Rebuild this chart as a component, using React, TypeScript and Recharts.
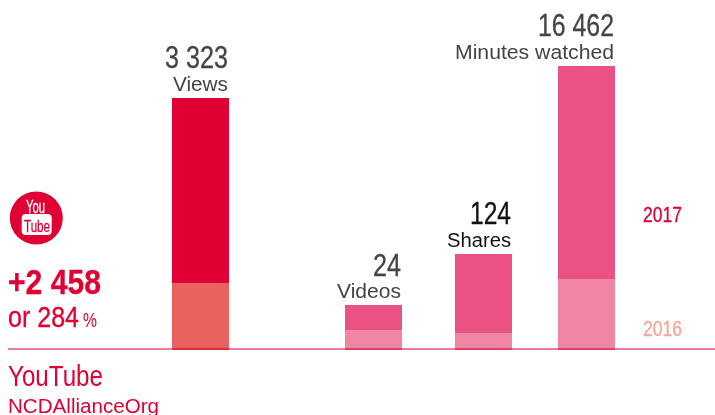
import { BarChart, Bar, XAxis, YAxis, Cell, LabelList, ReferenceLine } from "recharts";

const metrics = ["Views", "Videos", "Shares", "Minutes watched"];
const totalLabels = ["3 323", "24", "124", "16 462"];
const values2017 = [3323, 24, 124, 16462];
const values2016 = [880, 10.6, 22, 4115];
// each metric has its own vertical scale in the original graphic
const scaleMax = [4615, 186.7, 452, 20287];
// the bars are not evenly spaced, horizontal slot of each on a 0-715 axis
const slots = [200.5, 373.5, 483.5, 586.5];

const colors2017 = ["#E00034", "#EA5284", "#EA5284", "#EA5284"];
const colors2016 = ["#EA625E", "#F085A4", "#F085A4", "#F085A4"];
const labelColors = ["#444444", "#444444", "#111111", "#444444"];
// no condensed face is installed, so text is squeezed to the measured widths
const totalWidths = [63, 28, 41, 76];
const nameWidths = [55, 64, 64, 159];

const RED = "#E00034";
const FONT = '"Liberation Sans", Arial, sans-serif';

const data = metrics.map((name, i) => ({
  name,
  slot: slots[i],
  base: (values2016[i] / scaleMax[i]) * 100,
  growth: ((values2017[i] - values2016[i]) / scaleMax[i]) * 100,
}));

// thick adds a hairline outline, squeezed glyphs come out too thin otherwise
function Txt({ x, y, size, w, color = RED, bold, thick, right, children }: any) {
  return (
    <text
      x={x}
      y={y}
      fontSize={size}
      fill={color}
      stroke={thick ? color : "none"}
      strokeWidth={thick ? 0.3 : 0}
      fontFamily={FONT}
      fontWeight={bold ? 700 : 400}
      textAnchor={right ? "end" : "start"}
      textLength={w}
      lengthAdjust="spacingAndGlyphs"
    >
      {children}
    </text>
  );
}

function BarLabel(props: any) {
  const { x, y, width, index } = props;
  const right = x + width - 1;
  return (
    <g>
      <Txt x={right} y={y - 29.5} size={31} w={totalWidths[index]} color={labelColors[index]} thick right>
        {totalLabels[index]}
      </Txt>
      <Txt x={right} y={y - 7} size={20} w={nameWidths[index]} color={labelColors[index]} right>
        {metrics[index]}
      </Txt>
    </g>
  );
}

export default function App() {
  return (
    <div style={{ position: "absolute", left: 0, top: 0, width: 715, height: 415, background: "#fff" }}>
      <BarChart width={715} height={415} data={data} margin={{ top: 0, right: 0, bottom: 65, left: 0 }}>
        <XAxis type="number" dataKey="slot" domain={[0, 715]} hide />
        <YAxis type="number" domain={[0, 100]} hide />
        <Bar dataKey="base" stackId="a" barSize={57} isAnimationActive={false}>
          {data.map((_, i) => (
            <Cell key={i} fill={colors2016[i]} />
          ))}
        </Bar>
        <Bar dataKey="growth" stackId="a" barSize={57} isAnimationActive={false}>
          {data.map((_, i) => (
            <Cell key={i} fill={colors2017[i]} />
          ))}
          <LabelList dataKey="growth" content={<BarLabel />} />
        </Bar>
        <ReferenceLine
          segment={[
            { x: 8, y: 0.29 },
            { x: 715, y: 0.29 },
          ]}
          stroke="#EE7C9B"
          strokeWidth={2}
          style={{ mixBlendMode: "multiply" }}
        />
      </BarChart>
      <svg width={715} height={415} style={{ position: "absolute", left: 0, top: 0, pointerEvents: "none" }}>
        <circle cx={36.3} cy={218} r={26.5} fill={RED} />
        <rect x={21.7} y={214} width={30} height={21} rx={4} fill="#fff" />
        <Txt x={26} y={213} size={18} w={19} color="#fff" thick>You</Txt>
        <Txt x={24} y={232} size={17} w={26} thick>Tube</Txt>
        <Txt x={8} y={294} size={35} w={93} bold thick>+2 458</Txt>
        <Txt x={8} y={327} size={29} w={71} thick>or 284</Txt>
        <Txt x={83} y={327} size={21} w={14}>%</Txt>
        <Txt x={8} y={386} size={29} w={95}>YouTube</Txt>
        <Txt x={8} y={412.5} size={20} w={151}>NCDAllianceOrg</Txt>
        <Txt x={682} y={222} size={22} w={39} thick right>2017</Txt>
        <Txt x={682} y={336} size={22} w={39} color="#F7A69B" thick right>2016</Txt>
      </svg>
    </div>
  );
}
